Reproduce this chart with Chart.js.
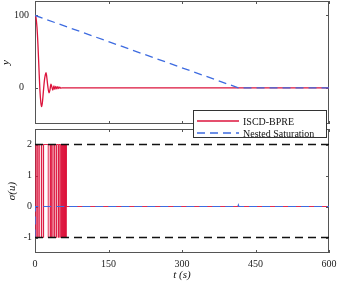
<!DOCTYPE html>
<html>
<head>
<meta charset="utf-8">
<script src="https://cdn.jsdelivr.net/npm/chart.js@4.4.0/dist/chart.umd.min.js"></script>
<style>
  body { margin: 0; background: #fff; }
  #wrap { position: relative; width: 341px; height: 284px; overflow: hidden; }
  canvas { position: absolute; left: 0; }
  #legend {
    position: absolute; left: 193px; top: 110px; width: 132px; height: 26px;
    background: #fff; border: 1px solid #333;
    font: 10px "Liberation Serif", serif; color: #111;
  }
  .row { position: absolute; left: 3px; height: 12px; display: flex; align-items: center; }
  .row svg { margin-right: 4px; }
</style>
</head>
<body>
<div id="wrap">
  <canvas id="top" width="341" height="126" style="top:0"></canvas>
  <canvas id="bottom" width="341" height="160" style="top:124px"></canvas>
  <div id="legend">
    <div class="row" style="top:4px">
      <svg width="42" height="4"><line x1="0" y1="2" x2="42" y2="2" stroke="#dc143c" stroke-width="1.4"/></svg>ISCD-BPRE
    </div>
    <div class="row" style="top:16px">
      <svg width="42" height="4"><line x1="0" y1="2" x2="42" y2="2" stroke="#3d6be0" stroke-width="1.3" stroke-dasharray="8,5"/></svg>Nested Saturation
    </div>
  </div>
</div>
<script>
// time axis
const xTicks = [0, 150, 300, 450, 600];

// top panel: y(t)
const iscdT = [0, 2, 4, 6, 8, 10, 12, 13.5, 15, 17, 19, 21, 22.5, 24, 26, 28.5, 30.5, 32.5, 34.5, 36.5, 38.5, 40.5, 42.5, 44.5, 46.5, 48.5, 50.5, 52.5, 55, 600];
const iscdY = [100, 97, 84, 60, 28, -3, -21, -26, -21, -6, 9, 18, 21, 15, 3, -7, -3, 5, 1, -3, 2.5, -2, 2, -1.5, 1.5, -1, 1, -0.5, 0, 0];
const nestedT = [0, 415, 600];
const nestedY = [100, 0, 0];
const yTicksTop = [0, 100];

// bottom panel: sigma(u)
const sigmaT = [0, 1.5, 4, 4.6, 8, 8.6, 13, 13.6, 17, 17.6, 27, 31, 31.6, 34, 34.6, 37, 40, 40.6, 44, 44.6, 48, 48.6, 51, 51.6, 54, 54.5, 56, 56.5, 58, 58.4, 59.5, 59.9, 60.5, 60.9, 61.5, 61.9, 62.4, 62.8, 63.2, 63.6, 64, 600];
const iscdSigma = [-1, 2, -1, 2, -1, 2, -1, 2, -1, 2, -1, 2, -1, 2, -1, 2, -1, 2, -1, 2, -1, 2, -1, 2, -1, 2, -1, 2, -1, 2, -1, 2, -1, 2, -1, 2, -1, 2, -1, 2, 0, 0];
const nestedSigmaT = [0, 0.6, 414, 415, 416, 600];
const nestedSigma = [-1, 0, 0, 0.05, 0, 0];
const boundT = [0, 600];
const upperBound = [2, 2];
const lowerBound = [-1, -1];
const yTicksBottom = [-1, 0, 1, 2];

const RED = '#dc143c';
const BLUE = '#3d6be0';
const SERIF = '"Liberation Serif", serif';

const pts = (xs, ys) => xs.map((x, i) => ({ x: x, y: ys[i] }));

// box round the plot area with inward tick marks
const frame = {
  id: 'frame',
  beforeDatasetsDraw(chart, args, opts) {
    const { ctx, chartArea: a, scales: { x, y } } = chart;
    ctx.save();
    ctx.strokeStyle = '#555';
    ctx.lineWidth = 1;
    ctx.strokeRect(a.left + 0.5, a.top + 0.5, a.right - a.left - 1, a.bottom - a.top - 1);
    ctx.beginPath();
    xTicks.forEach(v => {
      const px = Math.round(x.getPixelForValue(v)) + 0.5;
      ctx.moveTo(px, a.top); ctx.lineTo(px, a.top + 3);
      ctx.moveTo(px, a.bottom); ctx.lineTo(px, a.bottom - 3);
    });
    opts.yTicks.forEach(v => {
      const py = Math.round(y.getPixelForValue(v)) + 0.5;
      ctx.moveTo(a.left, py); ctx.lineTo(a.left + 3, py);
      ctx.moveTo(a.right, py); ctx.lineTo(a.right - 3, py);
    });
    ctx.stroke();
    ctx.restore();
  }
};

function xScale(show) {
  return {
    type: 'linear', min: 0, max: 600, display: show,
    grid: { display: false, drawTicks: false }, border: { display: false },
    afterBuildTicks: s => { s.ticks = xTicks.map(v => ({ value: v })); },
    afterFit: s => { if (show) s.height = 31; s.paddingLeft = 0; s.paddingRight = 0; },
    ticks: { padding: 5, color: '#222', font: { family: SERIF, size: 10 } },
    title: { display: show, text: 't (s)', color: '#111', padding: { top: 0, bottom: 2 },
             font: { family: SERIF, size: 11, style: 'italic' } }
  };
}

function yScale(min, max, ticks, title, align, pad, titlePad) {
  return {
    type: 'linear', min: min, max: max,
    grid: { display: false, drawTicks: false }, border: { display: false },
    afterBuildTicks: s => { s.ticks = ticks.map(v => ({ value: v })); },
    afterFit: s => { s.width = 35; s.paddingTop = 0; s.paddingBottom = 0; },
    ticks: { padding: pad, crossAlign: align, color: '#222', font: { family: SERIF, size: 10 } },
    title: { display: true, text: title, color: '#111', padding: { top: titlePad, bottom: 0 },
             font: { family: SERIF, size: 11, style: 'italic' } }
  };
}

const common = {
  responsive: false, animation: false,
  plugins: { legend: { display: false }, tooltip: { enabled: false } },
  elements: { point: { radius: 0 } }
};

new Chart(document.getElementById('top'), {
  type: 'line',
  data: {
    datasets: [
      { data: pts(nestedT, nestedY), borderColor: BLUE, borderWidth: 1.3, borderDash: [8, 5], order: 0 },
      { data: pts(iscdT, iscdY), borderColor: RED, borderWidth: 1.3, cubicInterpolationMode: 'monotone', order: 1 }
    ]
  },
  options: Object.assign({}, common, {
    layout: { padding: { top: 1, right: 12, bottom: 2, left: 0 } },
    scales: { x: xScale(false), y: yScale(-50, 120, yTicksTop, 'y', 'center', 6, 0) },
    plugins: Object.assign({}, common.plugins, { frame: { yTicks: yTicksTop } })
  }),
  plugins: [frame]
});

new Chart(document.getElementById('bottom'), {
  type: 'line',
  data: {
    datasets: [
      { data: pts(boundT, upperBound), borderColor: '#111', borderWidth: 1.3, borderDash: [8, 5], order: 0 },
      { data: pts(boundT, lowerBound), borderColor: '#111', borderWidth: 1.3, borderDash: [8, 5], order: 0 },
      { data: pts(nestedSigmaT, nestedSigma), borderColor: BLUE, borderWidth: 1.2, borderDash: [8, 5], order: 1 },
      { data: pts(sigmaT, iscdSigma), borderColor: RED, borderWidth: 0.9, stepped: true, order: 2 }
    ]
  },
  options: Object.assign({}, common, {
    layout: { padding: { top: 5, right: 12, bottom: 0, left: 0 } },
    scales: { x: xScale(true), y: yScale(-1.5, 2.5, yTicksBottom, 'σ(u)', 'near', 3, 6) },
    plugins: Object.assign({}, common.plugins, { frame: { yTicks: yTicksBottom } })
  }),
  plugins: [frame]
});
</script>
</body>
</html>
